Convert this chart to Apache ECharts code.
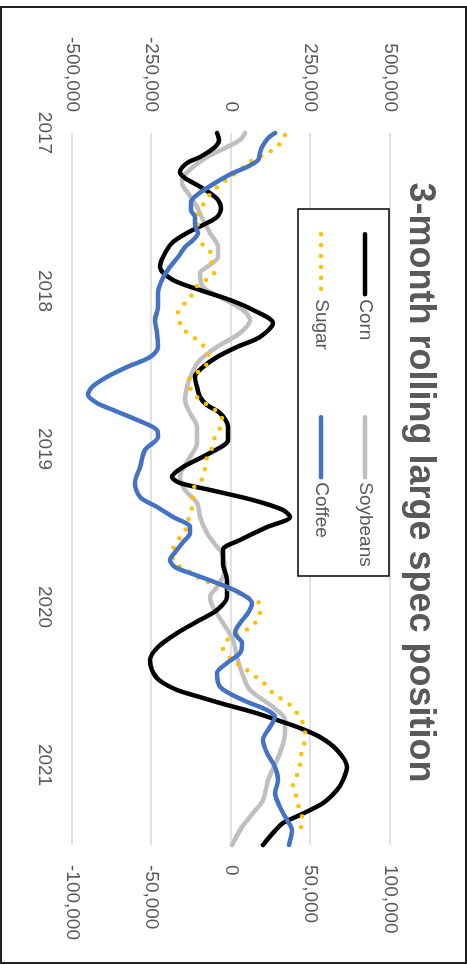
<!DOCTYPE html>
<html>
<head>
<meta charset="utf-8">
<script src="https://cdn.jsdelivr.net/npm/echarts@6/dist/echarts.min.js"></script>
<style>
  html, body { margin: 0; padding: 0; width: 467px; height: 965px; overflow: hidden; background: #fff; }
  /* landscape chart turned a quarter turn clockwise */
  #chart { position: absolute; left: 467px; top: 0; width: 965px; height: 467px;
           transform-origin: 0 0; transform: rotate(90deg); }
</style>
</head>
<body>
<div id="chart"></div>
<script>
// ---- data: [decimal year, net large-spec position (contracts)] ----
const seriesNames = ['Corn', 'Soybeans', 'Sugar', 'Coffee'];
const yearTicks = [2017, 2018, 2019, 2020, 2021];
const leftTicks = [-500000, -250000, 0, 250000, 500000];
const rightTicks = [-100000, -50000, 0, 50000, 100000];

const corn = [
  [2017.000,-44000],[2017.044,-37700],[2017.089,-50300],[2017.152,-97500],[2017.190,-138400],
  [2017.247,-160400],[2017.285,-144700],[2017.329,-106900],[2017.380,-66000],[2017.424,-40900],
  [2017.475,-31400],[2017.532,-44000],[2017.582,-88100],[2017.633,-138400],[2017.696,-185600],
  [2017.785,-213900],[2017.848,-223300],[2017.930,-182400],[2017.994,-97500],[2018.057,-3100],
  [2018.120,69200],[2018.203,132100],[2018.291,91200],[2018.354,18900],[2018.418,-44000],
  [2018.481,-88100],[2018.544,-113200],[2018.608,-106900],[2018.671,-97500],[2018.722,-75500],
  [2018.772,-34600],[2018.861,-9400],[2018.943,-9400],[2019.025,-66000],[2019.114,-151000],
  [2019.177,-185600],[2019.215,-160400],[2019.259,-66000],[2019.323,69200],[2019.386,163500],
  [2019.430,185600],[2019.494,113200],[2019.576,28300],[2019.639,-25200],[2019.722,-25200],
  [2019.829,-12600],[2019.937,-12600],[2020.019,-44000],[2020.082,-97500],[2020.165,-169800],
  [2020.253,-229600],[2020.335,-254700],[2020.399,-248500],[2020.462,-226400],[2020.525,-169800],
  [2020.570,-97500],[2020.620,-12600],[2020.665,69200],[2020.715,144700],[2020.766,217000],
  [2020.823,279900],[2020.905,333400],[2021.013,364800],[2021.095,352200],[2021.158,333400],
  [2021.241,289300],[2021.316,217000],[2021.367,163500],[2021.430,132100],[2021.506,100600]
];

const soybeans = [
  [2017.000,44000],[2017.044,28300],[2017.089,-12600],[2017.152,-75500],[2017.215,-119500],
  [2017.278,-151000],[2017.316,-154100],[2017.380,-135200],[2017.468,-106900],[2017.551,-88100],
  [2017.633,-66000],[2017.722,-40900],[2017.785,-40900],[2017.848,-75500],[2017.886,-97500],
  [2017.975,-88100],[2018.038,-34600],[2018.120,37700],[2018.184,59800],[2018.266,28300],
  [2018.354,-44000],[2018.437,-97500],[2018.519,-122700],[2018.608,-138400],[2018.690,-144700],
  [2018.772,-128900],[2018.861,-106900],[2018.962,-106900],[2019.070,-135200],[2019.177,-160400],
  [2019.259,-144700],[2019.342,-106900],[2019.430,-97500],[2019.532,-75500],[2019.620,-44000],
  [2019.658,-28300],[2019.766,-18900],[2019.873,-44000],[2019.937,-66000],[2020.000,-56600],
  [2020.101,-25200],[2020.209,6300],[2020.316,18900],[2020.418,34600],[2020.525,59800],
  [2020.633,132100],[2020.715,169800],[2020.797,169800],[2020.886,160400],[2020.968,144700],
  [2021.095,116400],[2021.222,100600],[2021.304,69200],[2021.392,34600],[2021.506,3100]
];

const sugar = [
  [2017.013,169800],[2017.089,144700],[2017.127,113200],[2017.190,53500],[2017.234,28300],
  [2017.278,0],[2017.316,-28300],[2017.361,-53500],[2017.411,-75500],[2017.468,-91200],
  [2017.532,-106900],[2017.595,-103800],[2017.658,-106900],[2017.709,-88100],[2017.759,-62900],
  [2017.823,-59800],[2017.886,-53500],[2017.962,-103800],[2018.025,-122700],[2018.076,-144700],
  [2018.133,-166700],[2018.171,-163500],[2018.234,-154100],[2018.310,-106900],[2018.367,-78600],
  [2018.437,-69200],[2018.487,-88100],[2018.576,-135200],[2018.671,-106900],[2018.753,-50300],
  [2018.804,-28300],[2018.867,-34600],[2018.924,-50300],[2018.994,-59800],[2019.057,-75500],
  [2019.120,-81800],[2019.184,-88100],[2019.228,-113200],[2019.291,-119500],[2019.367,-122700],
  [2019.430,-132100],[2019.494,-138400],[2019.532,-151000],[2019.595,-173000],[2019.658,-185600],
  [2019.722,-176100],[2019.753,-154100],[2019.785,-122700],[2019.829,-91200],[2019.848,-59800],
  [2019.892,0],[2019.924,34600],[2019.975,88100],[2020.038,91200],[2020.101,75500],
  [2020.146,47200],[2020.209,-12600],[2020.259,-25200],[2020.323,-3100],[2020.399,50300],
  [2020.443,78600],[2020.481,103800],[2020.538,128900],[2020.576,154100],[2020.620,185600],
  [2020.671,207600],[2020.734,226400],[2020.797,232700],[2020.873,229600],[2020.937,220200],
  [2021.000,217000],[2021.063,207600],[2021.127,195000],[2021.190,204400],[2021.253,210700],
  [2021.316,223300],[2021.380,220200],[2021.456,220200]
];

// coffee is plotted against the secondary axis
const coffee = [
  [2017.000,27700],[2017.032,23300],[2017.089,19500],[2017.127,18200],[2017.171,17000],
  [2017.215,10100],[2017.253,1300],[2017.297,-6900],[2017.348,-15100],[2017.392,-21400],
  [2017.437,-25200],[2017.487,-25200],[2017.532,-22600],[2017.582,-22600],[2017.633,-20800],
  [2017.677,-23900],[2017.722,-28900],[2017.785,-33300],[2017.848,-38400],[2017.930,-43400],
  [2018.013,-45900],[2018.101,-45900],[2018.184,-47800],[2018.266,-46500],[2018.354,-45900],
  [2018.418,-50900],[2018.481,-65400],[2018.544,-78000],[2018.608,-87400],[2018.658,-89900],
  [2018.709,-84300],[2018.753,-74200],[2018.816,-59100],[2018.880,-46500],[2018.924,-45900],
  [2019.006,-54100],[2019.114,-57200],[2019.215,-60400],[2019.304,-57200],[2019.367,-46500],
  [2019.430,-36500],[2019.494,-25800],[2019.532,-25800],[2019.589,-30200],[2019.639,-34000],
  [2019.703,-38400],[2019.747,-35200],[2019.785,-25800],[2019.848,-8800],[2019.911,5700],
  [2019.975,13200],[2020.038,10700],[2020.101,5700],[2020.165,2500],[2020.228,6900],
  [2020.291,5700],[2020.354,-2500],[2020.418,-8800],[2020.506,-6900],[2020.589,7500],
  [2020.652,22600],[2020.696,27700],[2020.759,24500],[2020.842,20100],[2020.924,22600],
  [2021.013,27700],[2021.095,29600],[2021.177,27700],[2021.266,30800],[2021.348,35200],
  [2021.411,38400],[2021.506,36500]
];

const seriesData = [corn, soybeans, sugar, coffee];
const colors = ['#000000', '#bfbfbf', '#ffc000', '#4472c4'];

const FONT = 'Liberation Sans, Arial, sans-serif';
const LABEL = '#595959';
const fmt = v => Math.round(v).toLocaleString('en-US');

const chart = echarts.init(document.getElementById('chart'), null, { renderer: 'canvas' });

const lineStyles = [
  { width: 4.5, cap: 'round', join: 'round' },
  { width: 4.5, cap: 'round', join: 'round' },
  { width: 4.5, cap: 'round', join: 'round', type: [0, 10.9] },
  { width: 4.5, cap: 'round', join: 'round' }
];

const series = seriesNames.map((name, i) => ({
  name,
  type: 'line',
  yAxisIndex: i === 3 ? 1 : 0,
  data: seriesData[i],
  smooth: 0.3,
  symbol: 'none',
  color: colors[i],
  lineStyle: Object.assign({ color: colors[i] }, lineStyles[i]),
  z: [3, 2, 4, 5][i]
}));

// one legend block per entry, arranged as a 2 x 2 grid inside a framed box
const legendPos = [
  { left: 232, top: 92.5 },  // Corn
  { left: 415, top: 92.5 },  // Soybeans
  { left: 232, top: 136.5 }, // Sugar
  { left: 415, top: 136.5 }  // Coffee
];
const legends = seriesNames.map((name, i) => ({
  data: [name],
  left: legendPos[i].left,
  top: legendPos[i].top,
  orient: 'horizontal',
  padding: 0,
  itemGap: 0,
  itemWidth: 60,
  itemHeight: 19,
  selectedMode: false,
  z: 6,
  // keys show the line only, no marker
  itemStyle: { color: 'rgba(0,0,0,0)', borderWidth: 0, opacity: 0 },
  lineStyle: Object.assign({}, lineStyles[i]),
  textStyle: { fontFamily: FONT, fontSize: 19, color: LABEL }
}));

chart.setOption({
  animation: false,
  backgroundColor: '#ffffff',
  title: {
    text: '3-month rolling large spec position',
    left: 'center',
    top: 24,
    textStyle: { fontFamily: FONT, fontSize: 36, fontWeight: 'bold', color: LABEL }
  },
  legend: legends,
  grid: { left: 133, right: 120, top: 77, bottom: 72, containLabel: false },
  xAxis: {
    type: 'value',
    min: yearTicks[0],
    max: 2021.506,
    interval: 1,
    axisLine: { show: false },
    axisTick: { show: false },
    splitLine: { show: false },
    axisLabel: {
      margin: 18,
      fontFamily: FONT, fontSize: 19, color: LABEL,
      showMaxLabel: false,
      formatter: v => (yearTicks.includes(v) ? String(v) : '')
    }
  },
  yAxis: [
    {
      type: 'value',
      min: leftTicks[0], max: leftTicks[leftTicks.length - 1], interval: 250000,
      axisLine: { show: false },
      axisTick: { show: false },
      splitLine: { show: true, lineStyle: { color: '#d9d9d9', width: 1.5 } },
      axisLabel: { margin: 21, fontFamily: FONT, fontSize: 19, color: LABEL, formatter: fmt }
    },
    {
      type: 'value',
      min: rightTicks[0], max: rightTicks[rightTicks.length - 1], interval: 50000,
      axisLine: { show: false },
      axisTick: { show: false },
      splitLine: { show: false },
      axisLabel: { margin: 20, fontFamily: FONT, fontSize: 19, color: LABEL, formatter: fmt }
    }
  ],
  graphic: [
    { // legend frame
      type: 'rect', z: 5,
      shape: { x: 209, y: 78, width: 367, height: 91 },
      style: { fill: '#ffffff', stroke: '#000000', lineWidth: 1.5 }
    },
    { // outer chart border
      type: 'rect', z: 20, silent: true,
      shape: { x: 7, y: 1, width: 956, height: 465 },
      style: { fill: null, stroke: '#222222', lineWidth: 2 }
    }
  ],
  series
});
</script>
</body>
</html>
